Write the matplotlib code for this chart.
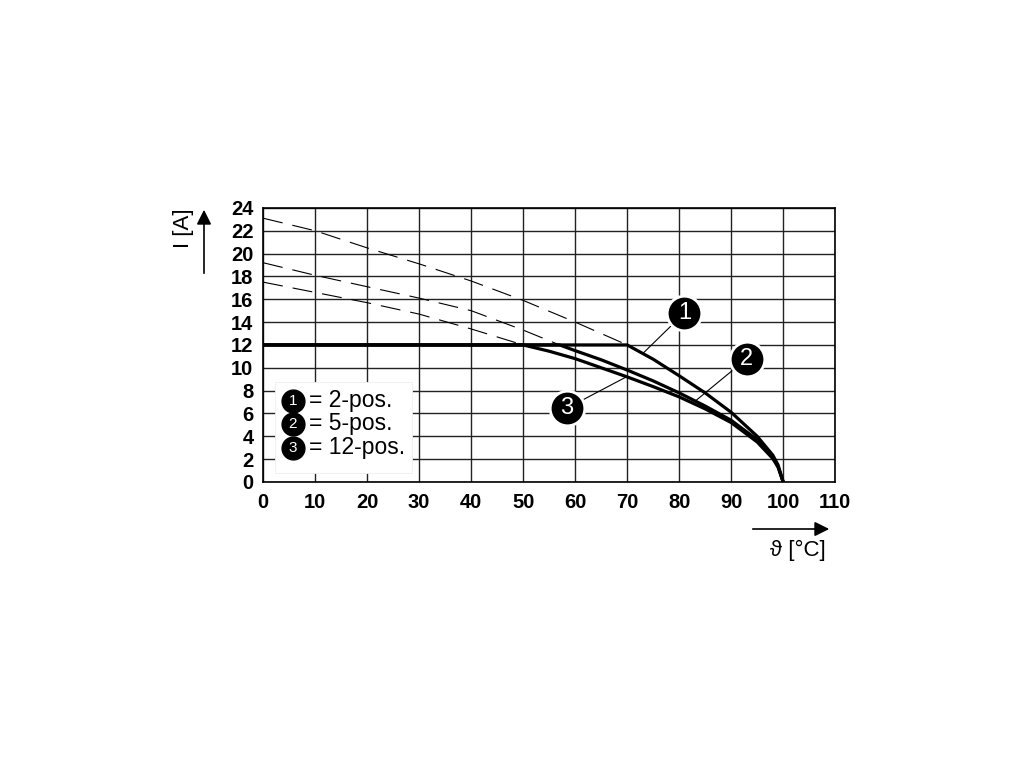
import numpy as np
import matplotlib
matplotlib.use("Agg")
import matplotlib.pyplot as plt
from matplotlib.patches import Rectangle

plt.rcParams['font.family'] = ['Liberation Sans', 'DejaVu Sans']

# data
rated = 12.0
t1 = [0, 10, 20, 30, 40, 50, 60, 70, 75, 80, 85, 90, 95, 98, 99, 100]
i1 = [23.1, 22.0, 20.5, 19.1, 17.6, 15.9, 14.0, 12.0, 10.75, 9.3, 7.8, 6.1, 4.0, 2.35, 1.5, 0]
t2 = [0, 10, 20, 30, 40, 50, 57, 60, 65, 70, 75, 80, 85, 90, 95, 98, 99, 100]
i2 = [19.2, 18.1, 17.1, 16.1, 15.0, 13.3, 12.0, 11.5, 10.7, 9.8, 8.85, 7.8, 6.65, 5.4, 3.7, 2.2, 1.4, 0]
t3 = [0, 10, 20, 30, 40, 50, 55, 60, 65, 70, 75, 80, 85, 90, 95, 98, 99, 100]
i3 = [17.5, 16.6, 15.7, 14.7, 13.4, 12.0, 11.45, 10.8, 10.0, 9.2, 8.35, 7.45, 6.4, 5.2, 3.5, 2.05, 1.3, 0]
legend_labels = ["= 2-pos.", "= 5-pos.", "= 12-pos."]

curves = [(t1, i1), (t2, i2), (t3, i3)]

fig = plt.figure(figsize=(10.2, 7.65), dpi=100)
ax = fig.add_axes([0.258, 0.370, 0.5608, 0.3582])

for t, i in curves:
    t = np.array(t)
    i = np.array(i, dtype=float)
    m = i >= rated
    ax.plot(t[m], i[m], color='black', lw=0.8, dashes=(18, 9), zorder=3)
    ax.plot(t, np.minimum(i, rated), color='black', lw=2.3, zorder=4,
            solid_capstyle='butt', solid_joinstyle='round')

ax.set_xlim(0, 110)
ax.set_ylim(0, 24)
ax.set_xticks(range(0, 111, 10))
ax.set_yticks(range(0, 25, 2))
ax.grid(True, color='#222222', lw=1.0)
ax.set_axisbelow(True)
for s in ax.spines.values():
    s.set_linewidth(1.2)
ax.tick_params(length=0, labelsize=14.5)
ax.tick_params(axis='x', pad=8)
ax.tick_params(axis='y', pad=7)
for lab in ax.get_xticklabels() + ax.get_yticklabels():
    lab.set_fontweight('bold')

# callouts
callouts = [("1", 81.0, 14.8, t1, i1, 73.0),
            ("2", 93.0, 10.8, t2, i2, 83.1),
            ("3", 58.4, 6.45, t3, i3, 69.9)]
for num, cx, cy, t, i, tx in callouts:
    ty = np.interp(tx, t, i)
    ax.plot([cx, tx], [cy, ty], color='black', lw=0.8, zorder=5)
    ax.scatter([cx], [cy], s=620, color='black', edgecolors='white',
               linewidths=2, zorder=6, clip_on=False)
    ax.text(cx, cy, num, color='white', fontsize=17, ha='center',
            va='center', zorder=7)

# legend box
ax.add_patch(Rectangle((0.021, 0.033), 0.239, 0.333, transform=ax.transAxes,
                       facecolor='white', edgecolor='#eeeeee', lw=0.6,
                       zorder=8))
rows = [0.2956, 0.2117, 0.1241]
for k, (y, lab) in enumerate(zip(rows, legend_labels)):
    ax.scatter([0.052], [y], s=270, color='black', transform=ax.transAxes,
               zorder=9, clip_on=False)
    ax.text(0.052, y, str(k + 1), color='white', fontsize=11, ha='center',
            va='center', transform=ax.transAxes, zorder=10)
    ax.text(0.080, y, lab, fontsize=16.5, ha='left', va='center',
            transform=ax.transAxes, zorder=10)

# axis labels with arrows
ap = dict(arrowstyle='-|>', color='black', lw=1.2, mutation_scale=22)
ax.annotate('', xy=(204 / 1020, 1 - 207 / 765), xytext=(204 / 1020, 1 - 276 / 765),
            xycoords='figure fraction', textcoords='figure fraction',
            arrowprops=ap, annotation_clip=False)
ax.annotate('', xy=(832 / 1020, 1 - 529 / 765), xytext=(750 / 1020, 1 - 529 / 765),
            xycoords='figure fraction', textcoords='figure fraction',
            arrowprops=ap, annotation_clip=False)
fig.text(184 / 1020, 1 - 228 / 765, 'I [A]', rotation=90, ha='center',
         va='center', fontsize=16)
fig.text(798 / 1020, 1 - 550 / 765, 'ϑ [°C]', ha='center', va='center',
         fontsize=16)

fig.savefig('out.png', dpi=100)
